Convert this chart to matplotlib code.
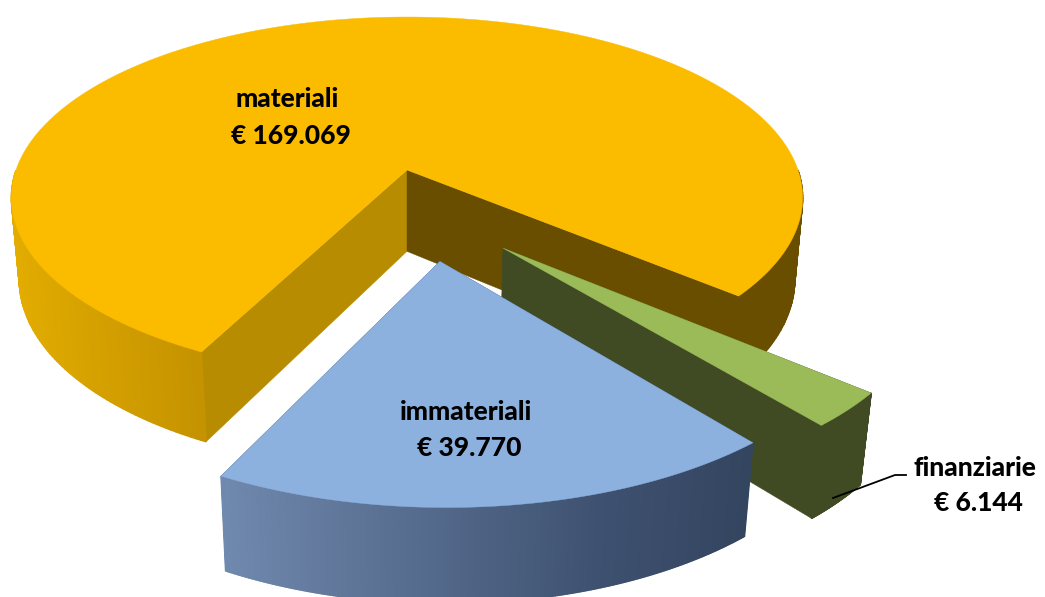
import numpy as np
import matplotlib
matplotlib.use('Agg')
import matplotlib.pyplot as plt
from matplotlib.patches import Polygon

categories = ['materiali', 'finanziarie', 'immateriali']
values = [169069, 6144, 39770]
value_labels = ['€ 169.069', '€ 6.144', '€ 39.770']
start_angle = 207.0  # clockwise from north

colors_top = ['#fbbc00', '#9bbb59', '#8cb1df']
colors_face = ['#6a4e00', '#404b23', '#344560']
colors_face2 = ['#b88c00', '#404b23', '#344560']
offsets = [(0.0, 0.0), (0.23, 0.415), (0.078, 0.48)]
radii = [1.0, 1.0, 1.0]

CX, CY, RX, RY, DEPTH = 407.0, 170.0, 391.0, 176.4, 83.0
K, M = 0.153, 0.02


def project(x, y, z=0.0):
    w = 1 - K * y + M * z
    return CX + RX * x / w, CY + (RY * y + DEPTH * z) / w


def rim_color(i, sx):
    # the light falls from the left
    if i == 0:
        if sx < 300:
            return np.array([np.interp(sx, [10, 205], [226, 196]),
                             np.interp(sx, [10, 205], [172, 146]),
                             0]) / 255
        return np.array([106, 78, 0]) / 255
    if i == 1:
        return np.array([64, 75, 35]) / 255
    return np.array([np.interp(sx, [220, 600, 750], [112, 62, 52]),
                     np.interp(sx, [220, 600, 750], [137, 81, 69]),
                     np.interp(sx, [220, 600, 750], [174, 112, 96])]) / 255


fig = plt.figure(figsize=(10.45, 5.97), dpi=100)
ax = fig.add_axes([0, 0, 1, 1])
ax.set_xlim(0, 1045)
ax.set_ylim(597, 0)
ax.axis('off')

fractions = np.array(values) / sum(values)
a0 = start_angle
for i in range(len(values)):
    a1 = a0 + fractions[i] * 360
    th = np.radians(np.linspace(a0, a1, 361))
    ox, oy = offsets[i]
    xs = ox + radii[i] * np.sin(th)
    ys = oy - radii[i] * np.cos(th)

    # sides, then rim, then the top
    for end in [0, -1]:
        pts = [project(ox, oy), project(xs[end], ys[end]),
               project(xs[end], ys[end], 1), project(ox, oy, 1)]
        c = colors_face2[i] if end == 0 else colors_face[i]
        ax.add_patch(Polygon(pts, fc=c, ec=c, lw=0.3))
    for j in range(len(th) - 1):
        if ys[j] + ys[j + 1] < 0:
            continue
        p = [project(xs[j], ys[j]), project(xs[j + 1], ys[j + 1]),
             project(xs[j + 1], ys[j + 1], 1), project(xs[j], ys[j], 1)]
        c = rim_color(i, p[0][0])
        ax.add_patch(Polygon(p, fc=c, ec=c, lw=1))
    top = [project(ox, oy)] + [project(x, y) for x, y in zip(xs, ys)]
    ax.add_patch(Polygon(top, fc=colors_top[i], ec=colors_top[i], lw=0.3))
    a0 = a1

font = dict(family='Lato', fontweight='black', fontsize=19, color='black', ha='center', va='center')
ax.text(287, 99, categories[0], **font)
ax.text(291, 136, value_labels[0], **font)
ax.text(466, 412, categories[2], **font)
ax.text(469, 448, value_labels[2], **font)
ax.text(975, 468, categories[1], **font)
ax.text(978, 503, value_labels[1], **font)
ax.plot([833, 895, 906], [498, 475, 475], color='black', lw=1.3)

fig.savefig('out.png', dpi=100)
